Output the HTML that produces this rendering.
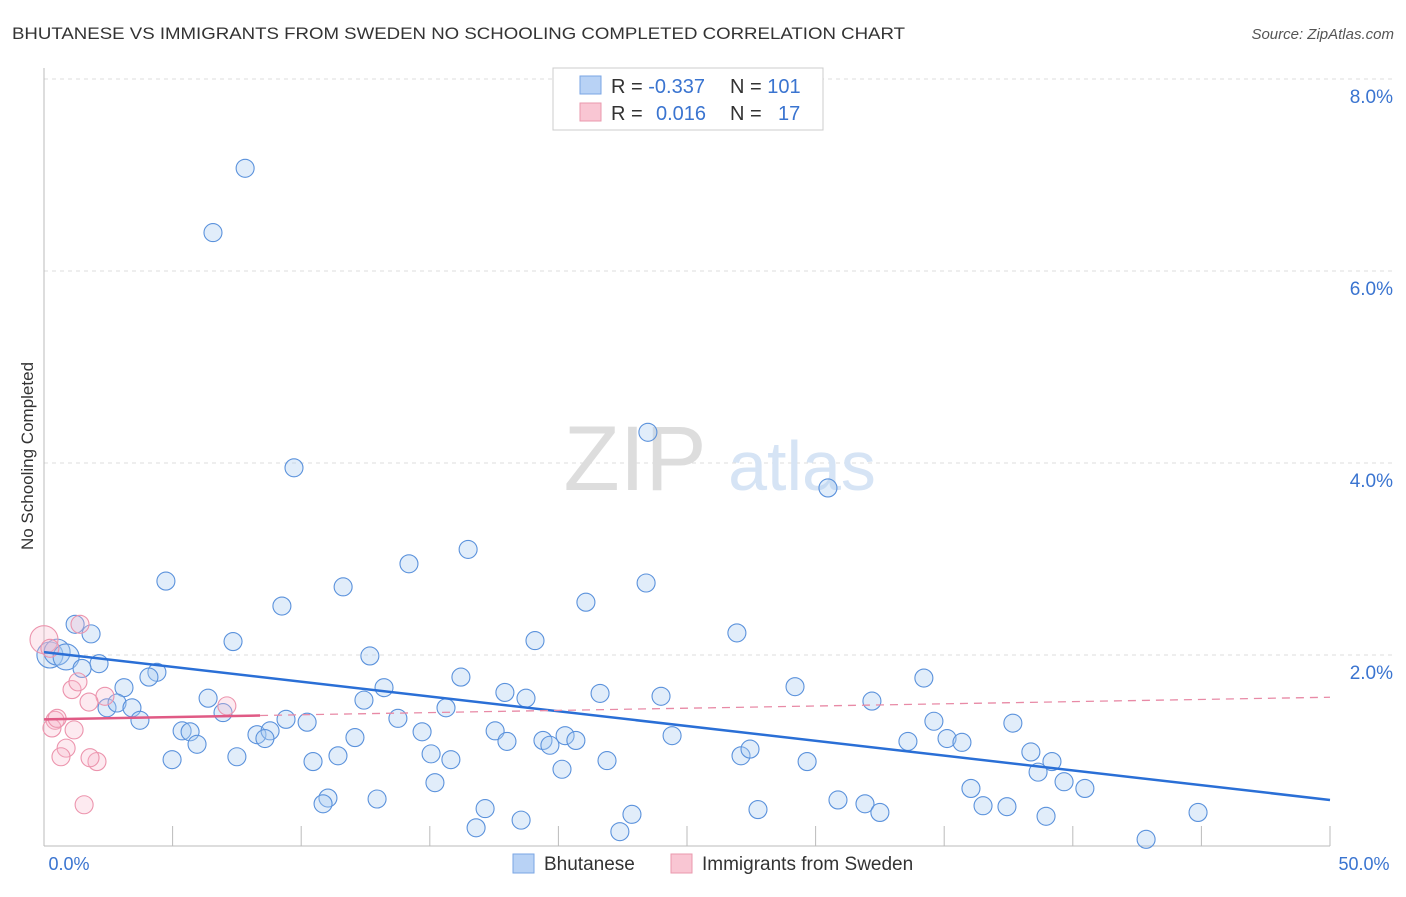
<!DOCTYPE html>
<html><head><meta charset="utf-8"><style>
body{margin:0;background:#fff;font-family:"Liberation Sans",sans-serif}
svg text{font-family:"Liberation Sans",sans-serif}
</style></head><body>
<svg id="chart" width="1406" height="892" viewBox="0 0 1406 892" xmlns="http://www.w3.org/2000/svg">
<text x="12" y="39" font-size="17" fill="#333" textLength="893" lengthAdjust="spacingAndGlyphs">BHUTANESE VS IMMIGRANTS FROM SWEDEN NO SCHOOLING COMPLETED CORRELATION CHART</text>
<text x="1394" y="39" font-size="15" fill="#555" font-style="italic" text-anchor="end">Source: ZipAtlas.com</text>
<g id="grid"></g>
<g>
<text x="635" y="490" font-size="92" fill="#ddd" font-family="Liberation Serif,serif" text-anchor="middle">ZIP</text>
<text x="802" y="490" font-size="70" fill="#d6e4f5" text-anchor="middle">atlas</text>
</g>
<line x1="44" y1="68" x2="44" y2="846" stroke="#bbb"/>
<line x1="44" y1="846" x2="1330" y2="846" stroke="#bbb"/>
<g id="ticks"></g>
<g id="ylabels"></g>
<text x="69" y="870" font-size="18" fill="#3a74d0" text-anchor="middle">0.0%</text>
<text x="1364" y="870" font-size="18" fill="#3a74d0" text-anchor="middle">50.0%</text>
<text transform="translate(33,456) rotate(-90)" font-size="17" fill="#333" text-anchor="middle">No Schooling Completed</text>
<g id="pts"></g>
<g id="trend"></g>
<g>
<rect x="553" y="68" width="270" height="62" fill="#fff" stroke="#ccc"/>
<rect x="580" y="76" width="21" height="18" fill="#b8d2f5" stroke="#7aa6e4"/>
<text x="611" y="93" font-size="20" fill="#333">R = <tspan fill="#3a74d0">-0.337</tspan><tspan x="730">N = </tspan><tspan fill="#3a74d0">101</tspan></text>
<rect x="580" y="103" width="21" height="18" fill="#f9c6d3" stroke="#ea98ae"/>
<text x="611" y="120" font-size="20" fill="#333">R = <tspan x="656" fill="#3a74d0">0.016</tspan><tspan x="730">N = </tspan><tspan x="778" fill="#3a74d0">17</tspan></text>
</g>
<g>
<rect x="513" y="854" width="21" height="19" fill="#b8d2f5" stroke="#7aa6e4"/>
<text x="544" y="870" font-size="19" fill="#333">Bhutanese</text>
<rect x="671" y="854" width="21" height="19" fill="#f9c6d3" stroke="#ea98ae"/>
<text x="702" y="870" font-size="19" fill="#333">Immigrants from Sweden</text>
</g>
</svg>
<script>
const yTicks=[2,4,6,8];
const yTickLabels=["2.0%","4.0%","6.0%","8.0%"];
const xTicks=[0,5,10,15,20,25,30,35,40,45,50];
const blueX=[7.82,6.57,9.72,23.48,30.48,16.49,4.74,14.19,11.63,23.41,9.25,21.07,1.21,1.83,7.35,19.09,26.94,0.23,0.51,0.86,2.14,12.67,4.39,4.08,3.11,16.21,13.22,17.92,21.62,18.74,23.99,29.20,34.21,6.38,12.44,32.19,2.45,2.84,3.42,15.63,6.96,3.73,9.41,10.23,13.76,34.60,37.67,5.37,5.68,5.95,8.28,8.79,8.59,14.70,17.54,18.00,19.40,20.26,20.68,19.67,24.42,33.59,35.11,35.69,38.37,15.05,12.09,15.82,7.50,4.98,10.46,11.43,21.89,27.10,27.45,29.67,39.19,38.65,20.14,15.20,36.04,39.66,40.47,11.04,10.85,12.95,30.87,31.92,36.51,37.44,32.50,17.15,22.86,27.76,44.87,38.96,18.55,16.80,22.39,42.85,1.48];
const blueY=[7.07,6.40,3.95,4.32,3.74,3.10,2.77,2.95,2.71,2.75,2.51,2.55,2.32,2.22,2.14,2.15,2.23,2.00,2.03,1.98,1.91,1.99,1.82,1.77,1.66,1.77,1.66,1.61,1.60,1.55,1.57,1.67,1.76,1.55,1.53,1.52,1.45,1.50,1.45,1.45,1.40,1.32,1.33,1.30,1.34,1.31,1.29,1.21,1.20,1.07,1.17,1.21,1.13,1.20,1.21,1.10,1.11,1.16,1.11,1.06,1.16,1.10,1.13,1.09,0.99,0.97,1.14,0.91,0.94,0.91,0.89,0.95,0.90,0.95,1.02,0.89,0.89,0.78,0.81,0.67,0.61,0.68,0.61,0.51,0.45,0.50,0.49,0.45,0.43,0.42,0.36,0.40,0.34,0.39,0.36,0.32,0.28,0.20,0.16,0.08,1.86];
const pinkX=[0.0,0.23,1.40,1.09,1.32,2.37,1.75,7.11,0.43,0.31,1.17,0.86,0.66,2.06,1.79,1.56,0.51];
const pinkY=[2.16,2.07,2.32,1.64,1.72,1.57,1.51,1.47,1.32,1.24,1.22,1.03,0.94,0.89,0.93,0.44,1.34];
const blueTrend=[[0,2.03],[50,0.49]];
const pinkTrendSolid=[[0,1.33],[8.4,1.37]];
const pinkTrendDash=[[8.4,1.37],[50,1.56]];
const NS="http://www.w3.org/2000/svg";
const sx=v=>44+v/50*1286, sy=v=>847-v*96;
function mk(t,a,p){const e=document.createElementNS(NS,t);for(const k in a)e.setAttribute(k,a[k]);p.appendChild(e);return e;}
const grid=document.getElementById('grid'),yl=document.getElementById('ylabels'),tk=document.getElementById('ticks');
yTicks.forEach((v,i)=>{const l=mk('line',{x1:44,x2:1394,y1:sy(v),y2:sy(v),stroke:'#ddd','stroke-dasharray':'4,4'},grid);


const t=mk('text',{x:1393,y:sy(v)+24,'font-size':19,fill:'#3a74d0','text-anchor':'end'},yl);t.textContent=yTickLabels[i];

});
xTicks.forEach(v=>{const l=mk('line',{x1:sx(v),x2:sx(v),y1:826,y2:846,stroke:'#bbb'},tk);

});
const pts=document.getElementById('pts');
blueX.forEach((x,i)=>{const c=mk('circle',{cx:sx(x),cy:sy(blueY[i]),r:(x<1?13:9),fill:'rgba(170,202,242,0.35)',stroke:'#5b92dc','stroke-width':1.1},pts);

});
pinkX.forEach((x,i)=>{const c=mk('circle',{cx:sx(x),cy:sy(pinkY[i]),r:(i==0?14:9),fill:'rgba(248,185,204,0.3)',stroke:'#ec94ad','stroke-width':1.1},pts);

});
const tr=document.getElementById('trend');
let l=mk('line',{x1:sx(blueTrend[0][0]),y1:sy(blueTrend[0][1]),x2:sx(blueTrend[1][0]),y2:sy(blueTrend[1][1]),stroke:'#2a6fd6','stroke-width':2.5},tr);


l=mk('line',{x1:sx(pinkTrendSolid[0][0]),y1:sy(pinkTrendSolid[0][1]),x2:sx(pinkTrendSolid[1][0]),y2:sy(pinkTrendSolid[1][1]),stroke:'#e05a85','stroke-width':2.5},tr);


l=mk('line',{x1:sx(pinkTrendDash[0][0]),y1:sy(pinkTrendDash[0][1]),x2:sx(pinkTrendDash[1][0]),y2:sy(pinkTrendDash[1][1]),stroke:'#e88aa6','stroke-width':1.3,'stroke-dasharray':'8,6'},tr);


</script>
</body></html>
